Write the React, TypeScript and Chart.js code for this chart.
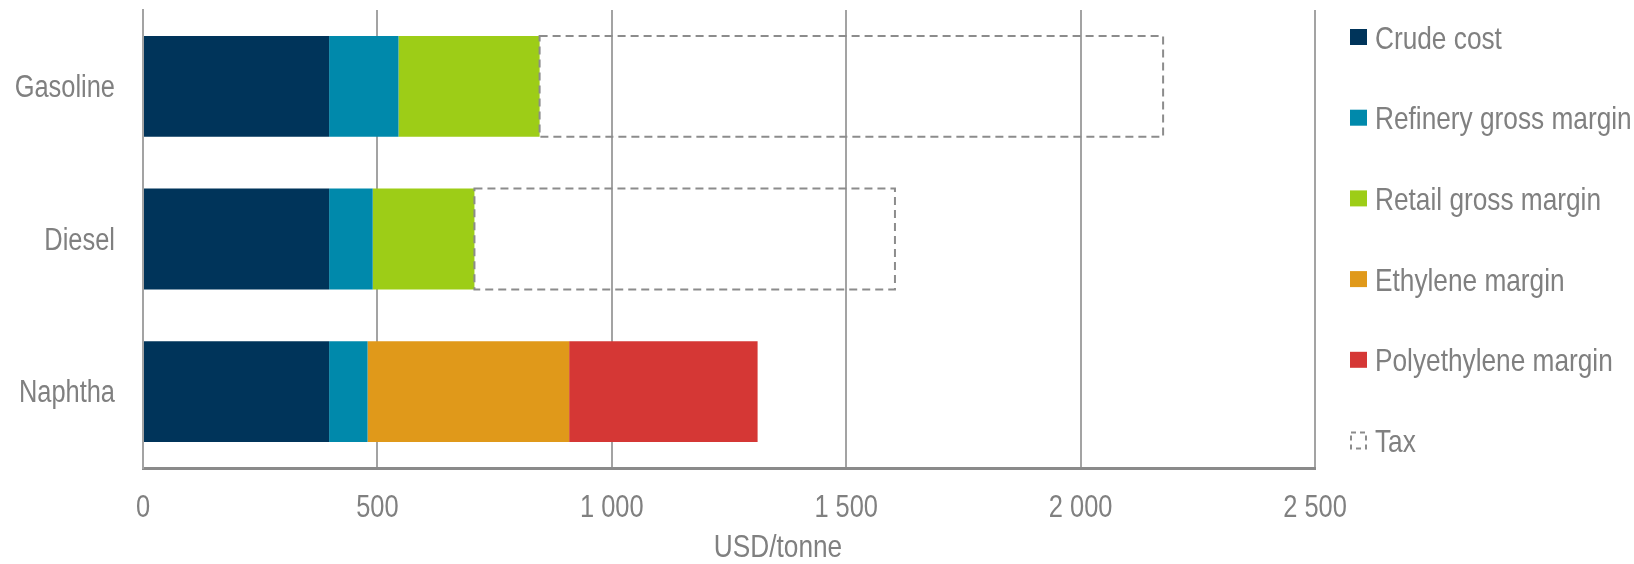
import React, { useEffect, useRef } from 'react';
import { Chart, registerables } from 'chart.js';

Chart.register(...registerables);

const categories = ['Gasoline', 'Diesel', 'Naphtha'];
const crudeCost = [397, 397, 397];
const refineryGrossMargin = [148, 93, 82];
const retailGrossMargin = [301, 217, 0];
const ethyleneMargin = [0, 0, 430];
const polyethyleneMargin = [0, 0, 402];
const tax = [1330, 897, 0];
const xTickValues = [0, 500, 1000, 1500, 2000, 2500];
const seriesNames = ['Crude cost', 'Refinery gross margin', 'Retail gross margin', 'Ethylene margin', 'Polyethylene margin', 'Tax'];
const seriesColors = ['#00345A', '#0089AB', '#9DCD17', '#E0991A', '#D53735', 'rgba(0,0,0,0)'];
const axisTitle = 'USD/tonne';

const FONT = '"Liberation Sans", Arial, sans-serif';
const NARROW = 0.82;
const TEXT_COLOR = '#808080';
const DASH_COLOR = '#8C8C8C';

const fmt = (v: number) => String(v).replace(/\B(?=(\d{3})+(?!\d))/g, ' ');

function narrowText(ctx: CanvasRenderingContext2D, text: string, x: number, y: number, align: CanvasTextAlign, size: number) {
  ctx.save();
  ctx.font = `${size}px ${FONT}`;
  ctx.fillStyle = TEXT_COLOR;
  ctx.textBaseline = 'alphabetic';
  ctx.textAlign = align;
  ctx.translate(x, y);
  ctx.scale(NARROW, 1);
  ctx.fillText(text, 0, 0);
  ctx.restore();
}

const taxBoxPlugin = {
  id: 'taxBox',
  afterDatasetsDraw(chart: any) {
    const idx = chart.data.datasets.findIndex((d: any) => d.label === 'Tax');
    if (idx < 0) return;
    const meta = chart.getDatasetMeta(idx);
    const ctx = chart.ctx;
    ctx.save();
    ctx.strokeStyle = DASH_COLOR;
    ctx.lineWidth = 2;
    ctx.setLineDash([8, 5]);
    meta.data.forEach((el: any) => {
      const p = el.getProps(['x', 'y', 'base', 'height'], true);
      if (Math.abs(p.x - p.base) < 1) return;
      ctx.strokeRect(p.base, p.y - p.height / 2, p.x - p.base, p.height);
    });
    ctx.restore();
  },
};

const axisLabelsPlugin = {
  id: 'axisLabels',
  afterDraw(chart: any) {
    const ctx = chart.ctx;
    const xs = chart.scales.x;
    const ys = chart.scales.y;
    const area = chart.chartArea;
    chart.data.labels.forEach((lab: string, i: number) => {
      const cy = ys.getPixelForTick(i);
      narrowText(ctx, lab, area.left - 28, cy + 10.5, 'right', 31);
    });
    xs.ticks.forEach((t: any) => {
      const px = xs.getPixelForValue(t.value);
      narrowText(ctx, fmt(t.value), px, area.bottom + 49, 'center', 31);
    });
    narrowText(ctx, axisTitle, (area.left + area.right) / 2 + 49, chart.height - 7, 'center', 32);
  },
};

const sideLegendPlugin = {
  id: 'sideLegend',
  afterDraw(chart: any) {
    const ctx = chart.ctx;
    const area = chart.chartArea;
    const x0 = area.right + 35;
    const step = 80.7;
    const y0 = area.top + 27;
    chart.data.datasets.forEach((ds: any, i: number) => {
      const cy = y0 + i * step;
      ctx.save();
      if (ds.label === 'Tax') {
        ctx.strokeStyle = DASH_COLOR;
        ctx.lineWidth = 2;
        ctx.setLineDash([5, 4]);
        ctx.strokeRect(x0 + 1, cy - 8, 15, 16);
      } else {
        ctx.fillStyle = ds.backgroundColor;
        ctx.fillRect(x0, cy - 8, 17, 16);
      }
      ctx.restore();
      narrowText(ctx, ds.label, x0 + 25, cy + 11.5, 'left', 32);
    });
  },
};

export default function App() {
  const canvasRef = useRef<HTMLCanvasElement | null>(null);

  useEffect(() => {
    document.body.style.margin = '0';
    const seriesData = [crudeCost, refineryGrossMargin, retailGrossMargin, ethyleneMargin, polyethyleneMargin, tax];
    const datasets = seriesNames.map((name, i) => ({
      label: name,
      data: seriesData[i],
      backgroundColor: seriesColors[i],
      borderWidth: 0,
      barPercentage: 0.66,
      categoryPercentage: 1,
    }));
    const chart = new Chart(canvasRef.current as HTMLCanvasElement, {
      type: 'bar',
      data: { labels: categories, datasets },
      plugins: [taxBoxPlugin, axisLabelsPlugin, sideLegendPlugin],
      options: {
        indexAxis: 'y',
        animation: false,
        responsive: true,
        maintainAspectRatio: false,
        layout: { padding: { top: 10, right: 319, left: 0, bottom: 0 } },
        plugins: {
          legend: { display: false },
          tooltip: { enabled: false },
        },
        scales: {
          x: {
            stacked: true,
            min: 0,
            max: 2500,
            afterBuildTicks: (scale: any) => {
              scale.ticks = xTickValues.map((v) => ({ value: v }));
            },
            afterFit: (scale: any) => {
              scale.height = 96;
              scale.paddingLeft = 0;
              scale.paddingRight = 0;
            },
            ticks: { display: false },
            grid: {
              color: '#A3A3A3',
              lineWidth: 2,
              drawTicks: false,
            },
            border: { display: true, color: '#8A8A8A', width: 3 },
          },
          y: {
            stacked: true,
            afterFit: (scale: any) => {
              scale.width = 143;
              scale.paddingTop = 0;
              scale.paddingBottom = 0;
            },
            ticks: { display: false },
            grid: { display: false, drawTicks: false },
            border: { display: true, color: '#A3A3A3', width: 2 },
          },
        },
      },
    } as any);
    return () => chart.destroy();
  }, []);

  return (
    <div style={{ width: '1634px', height: '564px', position: 'relative' }}>
      <canvas ref={canvasRef} />
    </div>
  );
}
